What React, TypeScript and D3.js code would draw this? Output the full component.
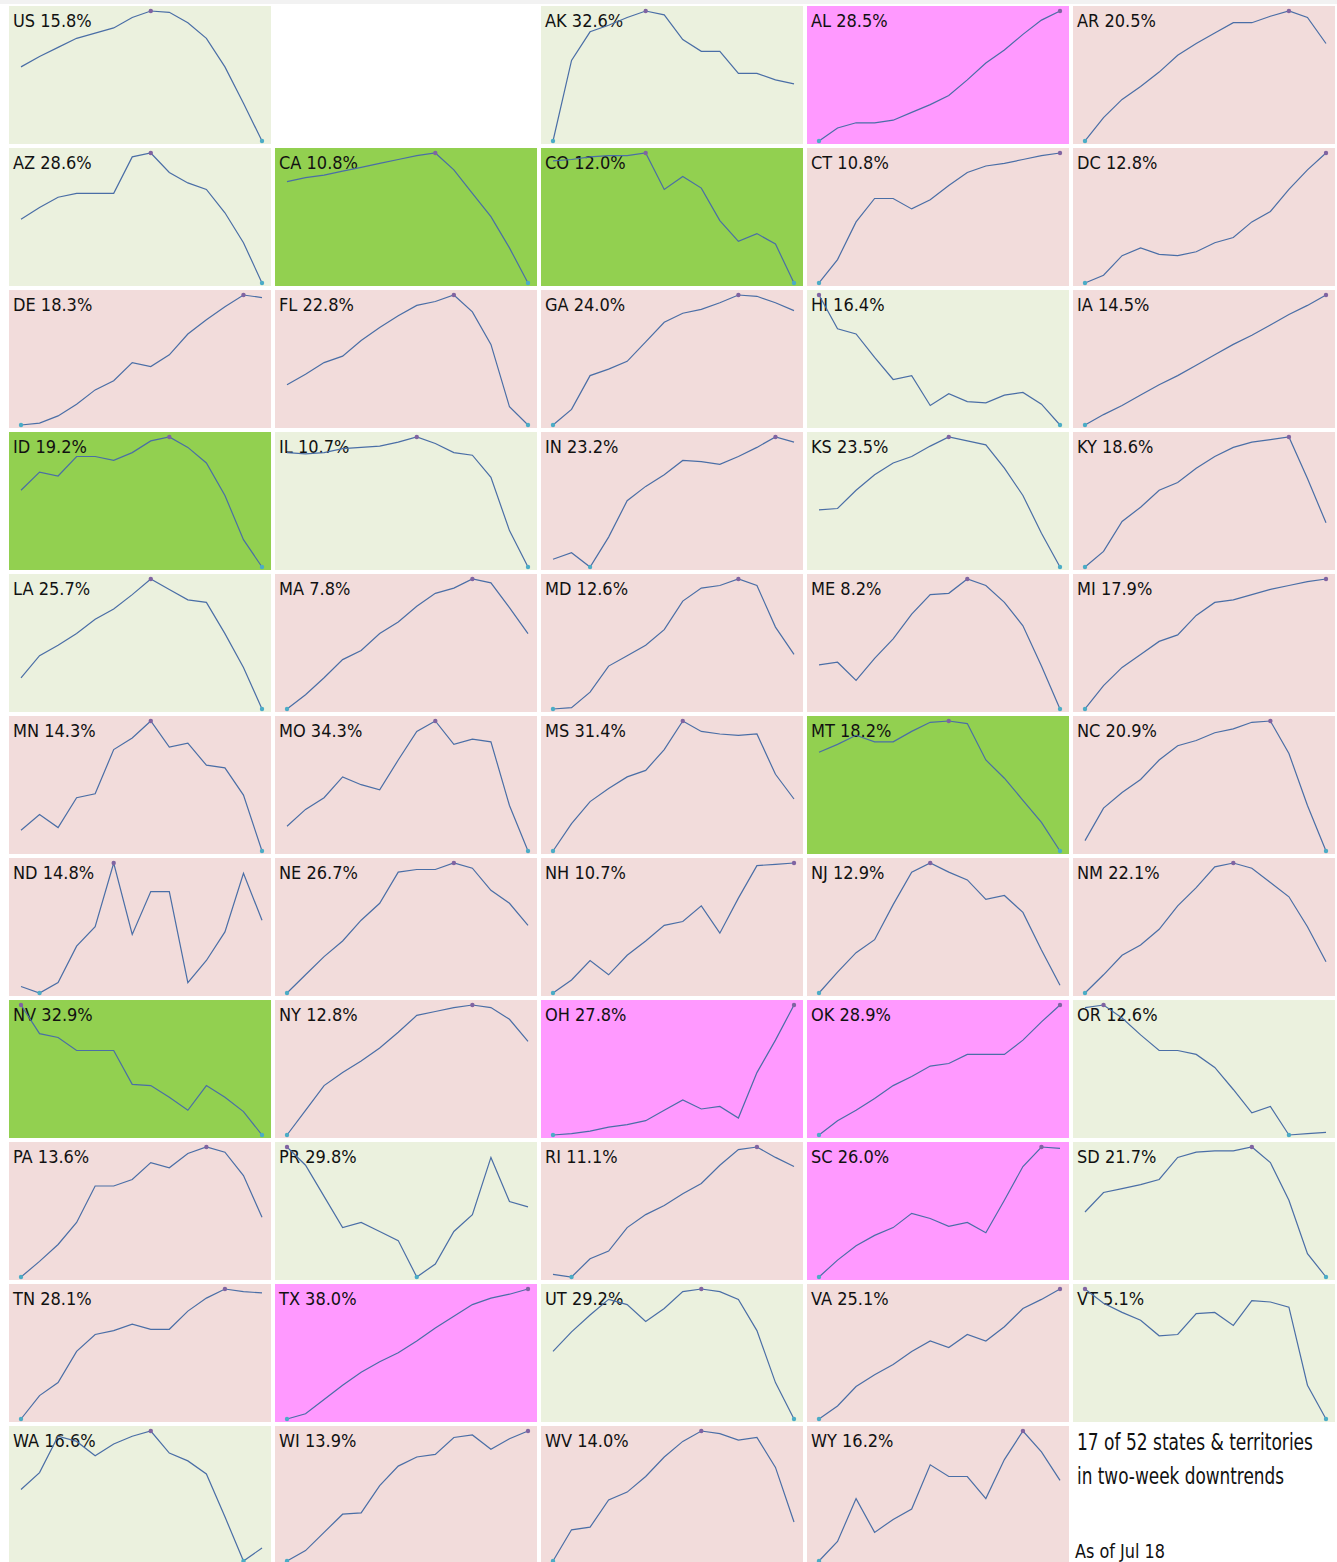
import * as d3 from "d3";

// states in grid order (US first, then alphabetical)
const states = ["US","AK","AL","AR","AZ","CA","CO","CT","DC","DE","FL","GA","HI","IA","ID","IL","IN","KS","KY","LA","MA","MD","ME","MI","MN","MO","MS","MT","NC","ND","NE","NH","NJ","NM","NV","NY","OH","OK","OR","PA","PR","RI","SC","SD","TN","TX","UT","VA","VT","WA","WI","WV","WY"];

const rates = [15.8,32.6,28.5,20.5,28.6,10.8,12.0,10.8,12.8,18.3,22.8,24.0,16.4,14.5,19.2,10.7,23.2,23.5,18.6,25.7,7.8,12.6,8.2,17.9,14.3,34.3,31.4,18.2,20.9,14.8,26.7,10.7,12.9,22.1,32.9,12.8,27.8,28.9,12.6,13.6,29.8,11.1,26.0,21.7,28.1,38.0,29.2,25.1,5.1,16.6,13.9,14.0,16.2];

// d = two-week downtrend, D = strong downtrend, u = up, U = strong up
const trend = ["d","d","U","u","d","D","D","u","u","u","u","u","d","u","D","d","u","d","u","d","u","u","u","u","u","u","u","D","u","u","u","u","u","u","D","u","U","U","d","u","d","u","U","d","u","U","d","u","d","d","u","u","u"];

// 14 daily points per state (each panel has its own scale)
const series = [
  [57,65,72,79,83,87,95,100,99,91,79,57,29,0],
  [0,62,84,89,95,100,97,78,69,69,52,52,47,44],
  [0,10,14,14,16,22,28,35,47,60,70,82,93,100],
  [0,18,32,42,53,66,75,83,91,91,96,100,95,75],
  [49,58,66,69,69,69,97,100,85,77,72,54,31,0],
  [78,81,83,86,89,92,95,98,100,87,69,51,27,0],
  [94,95,97,98,98,100,72,82,73,48,32,38,30,0],
  [0,18,47,65,65,57,64,75,85,90,92,95,98,100],
  [0,6,21,27,22,21,24,31,35,47,55,72,87,100],
  [0,1.5,7,16,27,34,48,45,54,70,81,91,100,98],
  [31,39,48,53,65,75,84,92,95,100,87,62,14,0],
  [0,12,38,43,49,64,79,86,89,94,100,99,94,88],
  [100,74,70,52,35,38,15,24,18,17,23,25,16,0],
  [0,8,15,23,31,38,46,54,62,69,77,85,92,100],
  [59,73,70,85,85,82,88,97,100,92,80,55,21,0],
  [88,87,88,91,92,93,96,100,95,88,86,69,28,0],
  [6,11,0,23,51,62,71,82,81,79,85,92,100,96],
  [44,45,59,71,80,85,93,100,97,94,76,55,26,0],
  [0,12,35,46,59,65,76,85,92,96,98,100,68,34],
  [24,41,49,58,69,77,88,100,92,84,82,58,32,0],
  [0,11,24,38,45,58,67,79,89,93,100,97,78,58],
  [0,1,13,33,41,49,61,83,93,95,100,95,63,42],
  [34,36,22,39,54,73,88,89,100,95,82,64,33,0],
  [0,18,32,42,52,57,72,82,84,88,92,95,98,100],
  [16,28,18,41,44,78,87,100,80,83,66,64,43,0],
  [19,32,41,57,51,47,70,92,100,82,86,84,35,0],
  [0,21,38,48,57,62,78,100,92,90,89,90,59,40],
  [76,82,89,84,84,92,99,100,98,70,56,39,22,0],
  [8,33,45,55,70,81,85,91,94,99,100,75,35,0],
  [5,0,8,36,51,100,45,78,78,8,25,47,92,56],
  [0,14,28,40,56,69,93,95,95,100,96,79,69,52],
  [0,10,25,14,29,40,52,55,67,46,73,98,99,100],
  [0,16,31,41,68,93,100,93,87,72,75,62,33,6],
  [0,14,29,37,49,67,81,97,100,96,85,74,51,24],
  [100,78,75,65,65,65,39,38,29,19,38,29,18,0],
  [0,19,38,48,57,67,79,92,95,98,100,98,89,72],
  [0,1,3,6,8,11,19,27,20,22,13,48,73,100],
  [0,11,19,28,38,45,53,55,62,62,62,73,87,100],
  [98,100,90,77,65,65,62,52,35,17,22,0,1,2],
  [0,12,25,42,70,70,75,88,84,95,100,96,78,46],
  [100,86,62,38,42,35,28,0,10,35,48,92,58,54],
  [2,0,14,20,38,48,55,64,72,86,98,100,92,85],
  [0,13,24,32,38,49,45,39,42,34,59,85,100,99],
  [50,65,68,71,75,92,96,97,97,100,88,59,18,0],
  [0,18,28,52,65,68,73,69,69,83,93,100,98,97],
  [0,4,15,26,36,44,51,60,70,79,88,93,96,100],
  [52,67,80,92,88,75,85,98,100,98,92,68,28,0],
  [0,10,25,34,42,52,60,55,65,60,71,85,92,100],
  [100,89,82,76,64,65,81,82,72,91,90,86,26,0],
  [55,68,96,92,81,90,96,100,83,77,67,34,0,10],
  [0,8,22,36,37,58,73,80,82,95,97,86,94,100],
  [0,24,26,47,53,65,80,92,100,98,93,95,72,30],
  [0,15,48,22,32,40,74,65,65,48,78,100,84,62],
];

const summary = ["17 of 52 states & territories", "in two-week downtrends"];
const summaryWidths = [236, 207];
const asOf = "As of Jul 18";

const fills: Record<string, string> = {
  d: "#ebf1de",
  D: "#92d050",
  u: "#f2dcdb",
  U: "#ff99ff",
};

const W = 1337;
const H = 1562;
const font = "'DejaVu Sans Condensed', 'Liberation Sans', sans-serif";

export default function App() {
  // slot 1 is left empty, the last slot holds the summary text
  const slots: (number | null)[] = [0, null, ...d3.range(1, states.length)];

  const col = d3.scaleBand<number>().domain(d3.range(5)).range([9, 1335]).paddingInner(0.015);
  const row = d3.scaleBand<number>().domain(d3.range(11)).range([6, 1564]).paddingInner(0.0282);
  const cw = col.bandwidth();
  const ch = row.bandwidth();

  const x = d3.scaleLinear().domain([0, 13]).range([12, cw - 9]);

  const textSlot = slots.length;
  const tx = col(textSlot % 5)!;
  const ty = row(Math.floor(textSlot / 5))!;

  return (
    <svg width={W} height={H} style={{ position: "absolute", left: 0, top: 0, background: "#fff" }}>
      <rect x={0} y={0} width={W} height={4} fill="#f2f2f2" />
      {slots.map((si, k) => {
        if (si === null) return null;
        const vals = series[si];
        const cx = col(k % 5)!;
        const cy = row(Math.floor(k / 5))!;
        const y = d3.scaleLinear().domain(d3.extent(vals) as [number, number]).range([ch - 3, 5]);
        const line = d3.line<number>().x((_, i) => x(i)).y((v) => y(v));
        const iMax = d3.maxIndex(vals);
        const iMin = d3.minIndex(vals);
        return (
          <g key={states[si]} transform={`translate(${cx},${cy})`}>
            <rect width={cw} height={ch} fill={fills[trend[si]]} />
            <text x={4} y={21} fontFamily={font} fontSize={18} fill="#111">
              {`${states[si]} ${rates[si].toFixed(1)}%`}
            </text>
            <path d={line(vals)!} fill="none" stroke="#4a6ea6" strokeWidth={1.2} />
            <circle cx={x(iMax)} cy={y(vals[iMax])} r={2.2} fill="#8064a2" />
            <circle cx={x(iMin)} cy={y(vals[iMin])} r={2.2} fill="#4bacc6" />
          </g>
        );
      })}
      <g transform={`translate(${tx},${ty})`} fontFamily={font} fill="#111">
        {summary.map((s, i) => (
          <text key={s} x={4} y={24 + i * 34} fontSize={23}
            textLength={summaryWidths[i]} lengthAdjust="spacingAndGlyphs">{s}</text>
        ))}
        <text x={2} y={132} fontSize={20} textLength={90} lengthAdjust="spacingAndGlyphs">{asOf}</text>
      </g>
    </svg>
  );
}
